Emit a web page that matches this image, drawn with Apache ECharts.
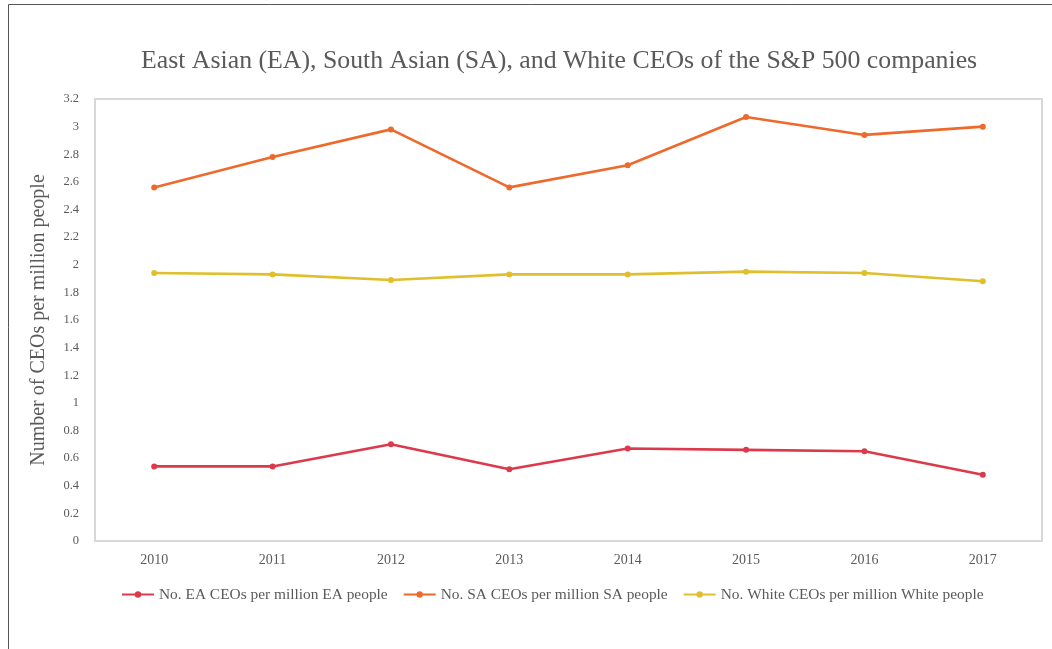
<!DOCTYPE html>
<html>
<head>
<meta charset="utf-8">
<style>
  html, body { margin: 0; padding: 0; background: #ffffff; }
  #chart { width: 1052px; height: 649px; }
</style>
<script src="https://cdn.jsdelivr.net/npm/echarts@6/dist/echarts.min.js"></script>
</head>
<body>
<div id="chart"></div>
<script>
// Years on the category axis
const years = ['2010', '2011', '2012', '2013', '2014', '2015', '2016', '2017'];

// CEOs per million people, by group
const eaValues = [0.54, 0.54, 0.70, 0.52, 0.67, 0.66, 0.65, 0.48];
const saValues = [2.56, 2.78, 2.98, 2.56, 2.72, 3.07, 2.94, 3.00];
const whiteValues = [1.94, 1.93, 1.89, 1.93, 1.93, 1.95, 1.94, 1.88];

const seriesNames = [
  'No. EA CEOs per million EA people',
  'No. SA CEOs per million SA people',
  'No. White CEOs per million White people'
];
const seriesColors = ['#dc3a4c', '#ee6a2c', '#dfbf2c'];

const titleText = 'East Asian (EA), South Asian (SA), and White CEOs of the S&P 500 companies';
const yAxisTitle = 'Number of CEOs per million people';

const serif = '"Liberation Serif", "DejaVu Serif", serif';
const textGrey = '#5a5a5a';

function lineSeries(name, data, color) {
  return {
    name: name,
    type: 'line',
    data: data,
    symbol: 'circle',
    symbolSize: 6,
    lineStyle: { width: 2.6, color: color },
    itemStyle: { color: color },
    emphasis: { disabled: true }
  };
}

const chart = echarts.init(document.getElementById('chart'));
chart.setOption({
  animation: false,
  backgroundColor: '#ffffff',
  title: {
    text: titleText,
    left: 136,
    top: 43,
    textStyle: {
      fontFamily: serif,
      fontSize: 25.8,
      fontWeight: 'normal',
      color: textGrey
    }
  },
  graphic: [{
    type: 'rect',
    shape: { x: 8.5, y: 4.5, width: 1100, height: 700 },
    style: { fill: 'none', stroke: '#555555', lineWidth: 1 },
    silent: true
  }],
  legend: {
    bottom: 42,
    left: 116,
    itemWidth: 32,
    itemHeight: 8,
    itemGap: 15,
    textStyle: { fontFamily: serif, fontSize: 15.4, color: textGrey },
    data: seriesNames
  },
  grid: {
    left: 95,
    right: 10,
    top: 99,
    bottom: 108,
    show: true,
    borderColor: '#d8d8d8',
    borderWidth: 2
  },
  xAxis: {
    type: 'category',
    data: years,
    boundaryGap: true,
    axisLine: { show: false },
    axisTick: { show: false },
    axisLabel: {
      margin: 12,
      fontFamily: serif,
      fontSize: 14,
      color: textGrey
    }
  },
  yAxis: {
    type: 'value',
    min: 0,
    max: 3.2,
    interval: 0.2,
    name: yAxisTitle,
    nameLocation: 'middle',
    nameGap: 46,
    nameTextStyle: { fontFamily: serif, fontSize: 20, color: textGrey },
    axisLine: { show: false },
    axisTick: { show: false },
    splitLine: { show: false },
    axisLabel: {
      margin: 16,
      fontFamily: serif,
      fontSize: 12.5,
      color: textGrey,
      formatter: function (v) { return String(Math.round(v * 10) / 10); }
    }
  },
  series: [
    lineSeries(seriesNames[0], eaValues, seriesColors[0]),
    lineSeries(seriesNames[1], saValues, seriesColors[1]),
    lineSeries(seriesNames[2], whiteValues, seriesColors[2])
  ]
});
</script>
</body>
</html>
